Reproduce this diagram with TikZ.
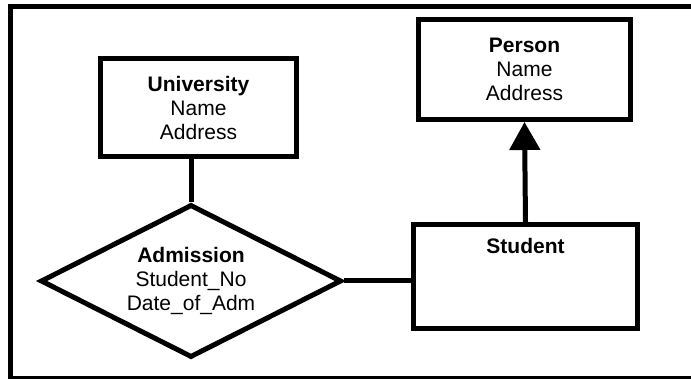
\documentclass[tikz,border=0pt]{standalone}
\usepackage{fontspec}
\setmainfont{Liberation Sans}
\usetikzlibrary{shapes.geometric,arrows.meta}

\begin{document}
\begin{tikzpicture}[x=1pt,y=-1pt,
    erfont/.style={font=\fontsize{21}{24}\selectfont},
    entity/.style={draw, line width=5pt, rectangle, align=center, erfont},
    relation/.style={draw, line width=5pt, diamond, aspect=1.97, align=center, inner sep=0pt, erfont},
    link/.style={line width=5pt}]
    % Frame, cut off at the right and bottom
    \clip (0,0) rectangle (691,379);
    \draw[line width=5pt] (10.5,6.5) rectangle (700,378.5);

    % Entities
    \node[entity, minimum width=196pt, minimum height=98pt] (uni) at (198.5,107.5) {\textbf{University}\\Name\\Address};
    \node[entity, minimum width=212pt, minimum height=100pt] (per) at (524.5,69.5) {\textbf{Person}\\Name\\Address};
    \node[entity, minimum width=224pt, minimum height=104pt,
          label={[anchor=north, inner sep=0pt, yshift=-16.5pt, erfont]north:\textbf{Student}}] (stu) at (525.5,276.5) {};

    % Relationship
    \node[relation, minimum width=301pt, minimum height=153pt] (adm) at (191,281) {\textbf{Admission}\\Student\_No\\Date\_of\_Adm};

    % Connectors
    \draw[link] (adm.north) -- (adm.north |- uni.south);
    \draw[link] (adm.east) -- (adm.east -| stu.west);
    \draw[link, -{Triangle[width=30pt,length=28pt]}] (stu.north) -- (per.south);
\end{tikzpicture}
\end{document}
